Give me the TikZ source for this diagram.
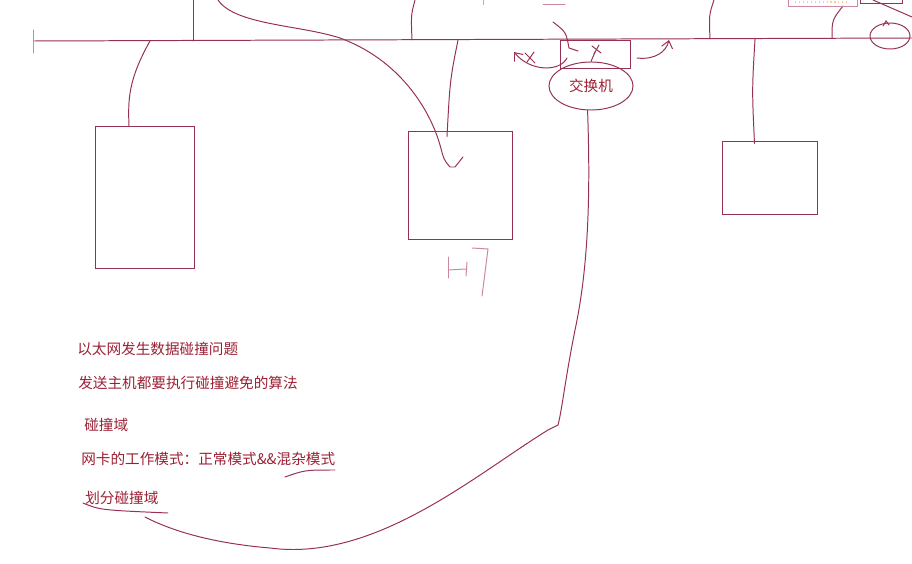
\documentclass[tikz,border=0pt]{standalone}
\usepackage{fontspec}
\newfontfamily\cjk{Noto Sans CJK SC}
\usetikzlibrary{shapes.geometric,arrows.meta,calc}
\definecolor{ink}{RGB}{150,48,85}
\definecolor{inklight}{RGB}{205,135,160}
\definecolor{txt}{RGB}{155,32,52}

\begin{document}
\begin{tikzpicture}[x=0.025cm,y=-0.025cm,
        wire/.style={draw=ink,line width=0.7pt,line cap=round},
        thin wire/.style={draw=inklight,line width=0.7pt,line cap=round},
        host/.style={draw=ink,line width=0.7pt,inner sep=0pt},
        note/.style={text=txt,anchor=west,inner sep=0pt,font=\cjk\fontsize{10.4}{12}\selectfont},
        barb/.style={-{Straight Barb[length=5pt,width=8pt]}}]
        \useasboundingbox (0,0) rectangle (912,564);

        % bus and its tap points
        \coordinate (busL) at (34,41);
        \coordinate (busR) at (912,38);
        \coordinate (tapA) at (150,41);
        \coordinate (tapB) at (458,40);
        \coordinate (tapC) at (755,39);
        \coordinate (up1) at (193,41);
        \coordinate (up2) at (412,40);
        \coordinate (up3) at (710,39);
        \coordinate (up4) at (832,38);
        \coordinate (top1) at (193,0);
        \coordinate (top2) at (415,0);
        \coordinate (top3) at (714,0);
        \coordinate (top4) at (843,6);
        \coordinate (topA) at (218,0);
        \coordinate (hook) at (463,157);
        \coordinate (tickT) at (33,30);
        \coordinate (tickB) at (33,53);
        \coordinate (noteEnd) at (145,517);

        \node[host,minimum width=2.45cm,minimum height=3.525cm] (hostA) at (145,197.5) {};
        \node[host,minimum width=2.6cm,minimum height=2.675cm] (hostB) at (460,185.5) {};
        \node[host,minimum width=2.375cm,minimum height=1.8cm] (hostC) at (769.5,178) {};
        \node[host,minimum width=1.75cm,minimum height=0.7cm] (switch) at (595,54) {};
        \node[host,ellipse,minimum width=2.1cm,minimum height=1.2cm,text=txt,
              font=\cjk\fontsize{10.4}{12}\selectfont] (swlabel) at (591,86) {交换机};

        \node[note] (n1) at (77,349) {以太网发生数据碰撞问题};
        \node[note] (n2) at (78,383) {发送主机都要执行碰撞避免的算法};
        \node[note] (n3) at (84,425) {碰撞域};
        \node[note] (n4) at (81,459) {网卡的工作模式：正常模式\&\&混杂模式};
        \node[note] (n5) at (85,498) {划分碰撞域};

        \draw[wire] (busL) -- (busR);
        \draw[thin wire] (tickT) -- (tickB);
        \draw[wire] (top1) -- (up1);
        \draw[wire] (top2) .. controls (411,15) .. (up2);
        \draw[wire] (top3) .. controls (709,15) .. (up3);
        \draw[wire] (top4) .. controls (832,20) .. (up4);
        \draw[wire] (tapA) .. controls (128,80) and (128,100) .. ($(hostA.north)+(-16,0)$);
        \draw[wire] (tapB) .. controls (450,80) .. ($(hostB.north)+(-13,5)$);
        \draw[wire] (tapC) .. controls (752,90) .. ($(hostC.north)+(-15,2)$);
        \draw[wire] (topA) .. controls (235,25) and (300,25) .. (340,38)
            .. controls (400,60) and (430,110) .. (440,145)
            .. controls (444,160) .. (450,167) -- (455,167) -- (hook);

        % scribbles round the switch
        \draw[wire] (553,22) .. controls (566,32) .. (569,48) -- (578,51);
        \draw[wire] (592,46) -- (601,53);
        \draw[wire] (599,45) -- (594,54);
        \draw[wire] (595,52) -- (swlabel.north);
        \draw[wire,barb] (567,58) .. controls (560,72) and (530,72) .. (514,52);
        \draw[wire] (525,53) -- (535,63);
        \draw[wire] (534,52) -- (527,62);
        \draw[wire,barb] (637,58) .. controls (655,60) and (666,52) .. (669,40);
        \draw[thin wire] (543,4) -- (565,4);
        \draw[draw=gray!60,line width=0.7pt] (483,0) -- (483,5);

        % long stroke from the switch label to the notes
        \draw[wire] (swlabel.262) .. controls (590,180) and (590,260) .. (575,330)
            .. controls (565,380) and (562,410) .. (558,425) -- (548,430)
            .. controls (475,475) and (375,562) .. (270,548)
            .. controls (210,543) and (170,530) .. (noteEnd);
        \draw[wire] (285,477) .. controls (305,470) .. (335,470);
        \draw[wire] (83,503) .. controls (100,510) .. (168,513);

        % "H7" written under the middle host
        \draw[thin wire] (448,257) -- (448,278);
        \draw[thin wire] (448,270) -- (466,269);
        \draw[thin wire] (467,262) -- (466,276);
        \draw[thin wire] (472,248) -- (488,249) -- (482,296);

        % cut-off items at the top right
        \draw[thin wire] (788,-2) rectangle (857,6);
        \draw[draw=orange!40,dotted,line width=0.8pt] (795,2) -- (850,2);
        \draw[wire] (860,-2) rectangle (902,3);
        \draw[wire] (873,0) -- (912,17);
        \draw[wire] (890,36) ellipse [x radius=20,y radius=13];
        \draw[wire] (883,26) -- (886,21) -- (889,25);
    \end{tikzpicture}
\end{document}
